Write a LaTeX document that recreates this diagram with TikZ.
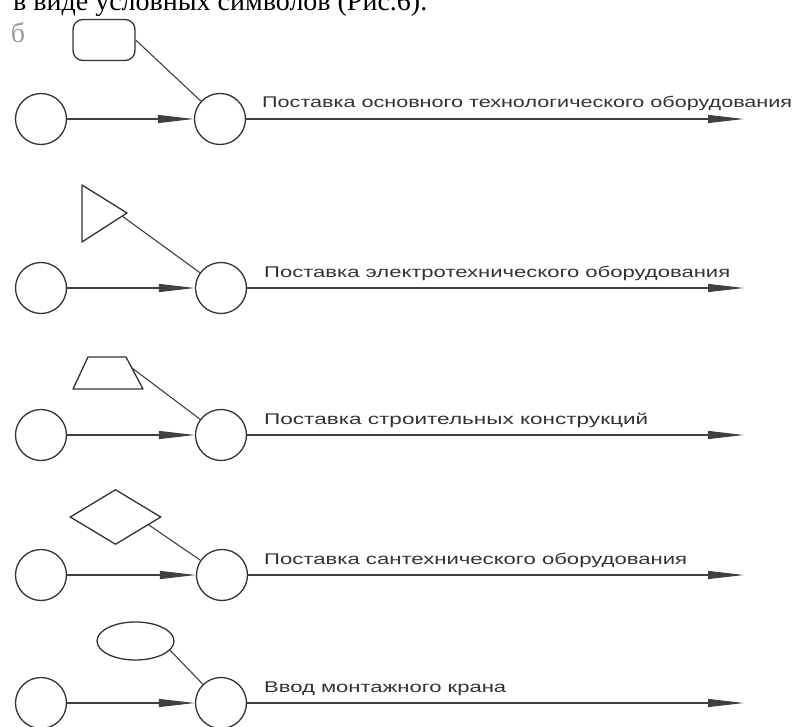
\documentclass[tikz,border=0pt]{standalone}
\usepackage{fontspec}
\setmainfont{Liberation Serif}
\newfontfamily\lblfont{Liberation Sans}
\usetikzlibrary{arrows.meta,shapes.geometric,calc}
\newsavebox\lblbox
\newlength\lbllen
\newcommand\fitto[2]{\sbox\lblbox{#2}\setlength\lbllen{\wd\lblbox}\pgfmathsetmacro\fitfac{#1/\lbllen}\scalebox{\fitfac}[1]{\usebox\lblbox}}
\begin{document}
\begin{tikzpicture}[x=1pt,y=-1pt,
  ln/.style={draw=black!80, line width=1.3pt},
  circ/.style={circle, ln, minimum size=51pt, inner sep=0pt},
  conn/.style={draw=black!75, line width=1.1pt},
  arr/.style={conn, -{Triangle[length=36pt,width=8pt]}},
  lbl/.style={anchor=base west, inner sep=0pt, text=black!80, font=\lblfont\fontsize{15.5}{18}\selectfont},
]
\useasboundingbox (0,0) rectangle (808,727);
\clip (0,0) rectangle (808,727);

\node[anchor=base west, inner sep=0pt, font=\fontsize{28}{30}\selectfont] (top) at (13,11) {в виде условных символов (Рис.6).};
\node[text=black!40, font=\fontsize{28}{30}\selectfont] (mark) at (18,33) {б};

% row 1
\node[circ] (l1) at (41,119) {};
\node[circ] (r1) at (220,119) {};
\node[ln, rounded corners=10pt, minimum width=62pt, minimum height=41pt, inner sep=0pt] (s1) at (104,40) {};
\coordinate (e1) at (744,119);
\draw[arr] (l1) -- (r1);
\draw[arr] (r1) -- (e1);
\draw[conn] (s1.east) -- (r1);
\node[lbl] (t1) at (262,108) {\fitto{530}{Поставка основного технологического оборудования}};

% row 2
\draw[ln, line join=round] (82,185) -- (127,213) -- (82,242) -- cycle;
\coordinate (s2) at (122,216);
\node[circ] (l2) at (41,288) {};
\node[circ] (r2) at (221,288) {};
\coordinate (e2) at (744,288);
\draw[arr] (l2) -- (r2);
\draw[arr] (r2) -- (e2);
\draw[conn] (s2) -- (r2);
\node[lbl] (t2) at (264,277) {\fitto{466}{Поставка электротехнического оборудования}};

% row 3
\draw[ln, line join=round] (88,357) -- (126,357) -- (143,389) -- (73,389) -- cycle;
\coordinate (s3) at (132,368);
\node[circ] (l3) at (41,435) {};
\node[circ] (r3) at (221,435) {};
\coordinate (e3) at (744,435);
\draw[arr] (l3) -- (r3);
\draw[arr] (r3) -- (e3);
\draw[conn] (s3) -- (r3);
\node[lbl] (t3) at (264,424) {\fitto{384}{Поставка строительных конструкций}};

% row 4
\node[diamond, ln, minimum width=91pt, minimum height=55pt, inner sep=0pt] (s4) at (115.5,517) {};
\coordinate (s4c) at ($(s4.east)!0.28!(s4.south)$);
\node[circ] (l4) at (41,575) {};
\node[circ] (r4) at (222,575) {};
\coordinate (e4) at (744,575);
\draw[arr] (l4) -- (r4);
\draw[arr] (r4) -- (e4);
\draw[conn] (s4c) -- (r4);
\node[lbl] (t4) at (264,564) {\fitto{423}{Поставка сантехнического оборудования}};

% row 5
\node[ellipse, ln, minimum width=77pt, minimum height=38pt, inner sep=0pt] (s5) at (135.5,641) {};
\node[circ] (l5) at (41,703) {};
\node[circ] (r5) at (221,703) {};
\coordinate (e5) at (744,703);
\draw[arr] (l5) -- (r5);
\draw[arr] (r5) -- (e5);
\draw[conn] (s5.-15) -- (r5);
\node[lbl] (t5) at (264,692) {\fitto{242}{Ввод монтажного крана}};
\end{tikzpicture}
\end{document}
